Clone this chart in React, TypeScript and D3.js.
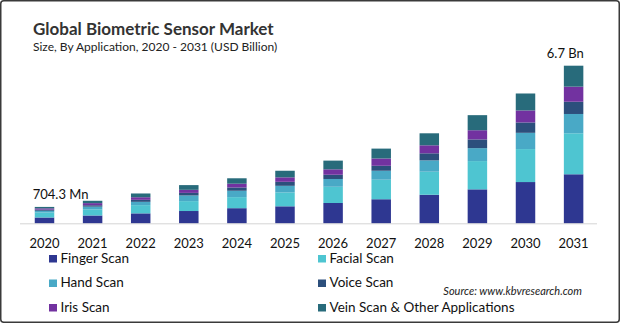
import React from "react";
import * as d3 from "d3";

const years = ["2020","2021","2022","2023","2024","2025","2026","2027","2028","2029","2030","2031"];
const fingerScan = [0.255, 0.34, 0.43, 0.53, 0.65, 0.73, 0.87, 1.03, 1.22, 1.45, 1.76, 2.09];
const facialScan = [0.215, 0.26, 0.35, 0.42, 0.47, 0.59, 0.69, 0.83, 0.98, 1.20, 1.40, 1.74];
const handScan = [0.07, 0.115, 0.14, 0.24, 0.27, 0.28, 0.33, 0.38, 0.48, 0.55, 0.69, 0.82];
const voiceScan = [0.05, 0.06, 0.085, 0.11, 0.14, 0.17, 0.18, 0.21, 0.30, 0.37, 0.44, 0.52];
const irisScan = [0.054, 0.09, 0.11, 0.13, 0.16, 0.19, 0.23, 0.31, 0.34, 0.39, 0.51, 0.64];
const veinScan = [0.06, 0.10, 0.16, 0.20, 0.23, 0.28, 0.37, 0.42, 0.51, 0.64, 0.72, 0.89];

const seriesNames = ["Finger Scan", "Facial Scan", "Hand Scan", "Voice Scan", "Iris Scan", "Vein Scan & Other Applications"];
const seriesValues = [fingerScan, facialScan, handScan, voiceScan, irisScan, veinScan];
const seriesColors = ["#2e3791", "#4ec5d1", "#49a9c6", "#2c4f7c", "#7232a0", "#286b7b"];

const firstLabel = "704.3 Mn";
const lastLabel = "6.7 Bn";
const maxValue = 6.7;

const FONT = "Lato, 'Open Sans', sans-serif";

export default function App() {
  const W = 620, H = 323;
  const x = d3.scaleBand<string>().domain(years).range([20.45, 597.65]).paddingInner(0.595).paddingOuter(0.2975);
  const y = d3.scaleLinear().domain([0, maxValue]).range([223.5, 65.7]);

  const rows = years.map((yr, i) => {
    const r: any = { year: yr };
    seriesNames.forEach((s, j) => (r[s] = seriesValues[j][i]));
    return r;
  });
  const stacked = d3.stack<any>().keys(seriesNames)(rows);

  const legendCols = [49, 318];
  const legendRows = [255, 279.5, 304];

  const firstX = x(years[0])!;
  const lastX = x(years[years.length - 1])! + x.bandwidth();
  const firstTotal = seriesValues.reduce((a, s) => a + s[0], 0);
  const lastTotal = seriesValues.reduce((a, s) => a + s[s.length - 1], 0);

  return (
    <svg width={W} height={H} style={{ position: "absolute", left: 0, top: 0, background: "#fff" }} fontFamily={FONT}>
      <rect x={0.75} y={0.75} width={W - 1.5} height={H - 1.5} rx={3} fill="#fff" stroke="#3a3a3a" strokeWidth={1.5} />
      <text x={33} y={34.5} fontSize={17} fontWeight="bold" fill="#333">Global Biometric Sensor Market</text>
      <text x={33} y={51} fontSize={12} fill="#222">Size, By Application, 2020 - 2031 (USD Billion)</text>

      {stacked.map((layer, j) => (
        <g key={j} fill={seriesColors[j]}>
          {layer.map((d, i) => (
            <rect key={i} x={x(years[i])} width={x.bandwidth()} y={y(d[1])} height={y(d[0]) - y(d[1])} />
          ))}
        </g>
      ))}

      <line x1={20} x2={597} y1={223.8} y2={223.8} stroke="#d4d4d4" strokeWidth={1} />

      {years.map((yr) => (
        <text key={yr} x={x(yr)! + x.bandwidth() / 2} y={247.5} fontSize={13} textAnchor="middle" fill="#111">{yr}</text>
      ))}

      <text x={firstX - 2} y={y(firstTotal) - 8} fontSize={13} fill="#111">{firstLabel}</text>
      <text x={lastX + 0.5} y={y(lastTotal) - 8} fontSize={13} textAnchor="end" fill="#111">{lastLabel}</text>

      {seriesNames.map((s, j) => {
        const cx = legendCols[j % 2];
        const cy = legendRows[Math.floor(j / 2)];
        return (
          <g key={s}>
            <rect x={cx} y={cy} width={8} height={7.5} fill={seriesColors[j]} />
            <text x={cx + 11.5} y={cy + 7.5} fontSize={13.5} fill="#111">{s}</text>
          </g>
        );
      })}

      <text x={582} y={295} fontSize={11} fontStyle="italic" textAnchor="end" fill="#222">Source: www.kbvresearch.com</text>
    </svg>
  );
}
